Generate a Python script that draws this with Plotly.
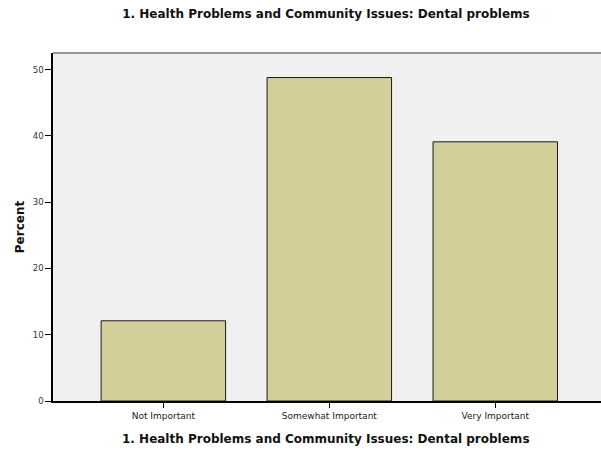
import plotly.graph_objects as go

categories = ["Not Important", "Somewhat Important", "Very Important"]
percent = [12.1, 48.8, 39.1]
y_ticks = [0, 10, 20, 30, 40, 50]
title_text = "1. Health Problems and Community Issues: Dental problems"

FONT = "DejaVu Sans, Verdana, sans-serif"

W, H = 601, 451
L, T, R, B = 53, 53, 0, 50
plot_h = H - T - B
plot_w = W - L - R

fig = go.Figure()
fig.add_trace(go.Bar(
    x=list(range(len(categories))),
    y=percent,
    width=0.75,
    marker=dict(color="#D3CF9B", line=dict(color="#1a1a1a", width=1)),
    hoverinfo="skip",
))

fig.update_layout(
    width=W, height=H,
    margin=dict(l=L, r=R, t=T, b=B),
    paper_bgcolor="white",
    plot_bgcolor="#F0F0F0",
    showlegend=False,
    font=dict(family=FONT, color="#222"),
    title=dict(text="<b>" + title_text + "</b>", x=326 / W, xanchor="center",
               y=1 - 14 / H, yanchor="middle", font=dict(size=12, color="#111")),
    xaxis=dict(
        range=[-0.665, 2.637],
        tickmode="array",
        tickvals=list(range(len(categories))),
        ticktext=categories,
        ticks="outside", ticklen=5, tickcolor="black", tickwidth=1,
        showline=True, linecolor="black", linewidth=1.5,
        showgrid=False, zeroline=False,
        tickfont=dict(size=9, color="#222"),
        fixedrange=True,
    ),
    yaxis=dict(
        range=[0, 52.5],
        tickmode="array",
        tickvals=y_ticks,
        ticks="outside", ticklen=6, tickcolor="black", tickwidth=1,
        showline=True, linecolor="black", linewidth=1.5,
        showgrid=False, zeroline=False,
        tickfont=dict(size=8.5, color="#333"),
        title=dict(text="<b>Percent</b>", font=dict(size=12, color="#111"), standoff=6),
        fixedrange=True,
    ),
    shapes=[dict(type="line", xref="paper", yref="paper", x0=0, x1=1, y0=1, y1=1,
                 line=dict(color="#777", width=1.5))],
    annotations=[dict(text="<b>" + title_text + "</b>", xref="paper", yref="paper",
                      x=(326 - L) / plot_w, y=-(439 - (H - B)) / plot_h,
                      xanchor="center", yanchor="middle",
                      showarrow=False, font=dict(size=12, color="#111"))],
)

fig.write_html("out.html",
               config={"displayModeBar": False},
               post_script="document.body.style.margin='0px';document.body.style.overflow='hidden';")
